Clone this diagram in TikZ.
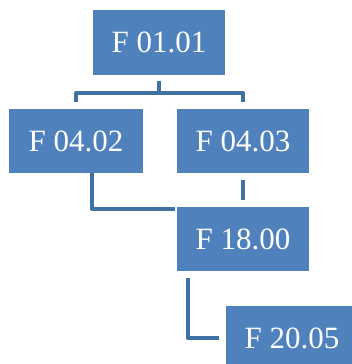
\documentclass[tikz,border=0pt]{standalone}
\usepackage{fontspec}
\setmainfont{Liberation Serif}
\usetikzlibrary{calc}
\definecolor{boxblue}{RGB}{79,129,189}
\definecolor{lineblue}{RGB}{65,113,163}
\tikzset{
  fbox/.style={fill=boxblue, draw=none, text=white, inner sep=0pt,
    minimum width=132pt, minimum height=64pt,
    font=\fontsize{31}{31}\selectfont},
  conn/.style={draw=lineblue, line width=4pt, line join=round, line cap=butt}
}
\begin{document}
\begin{tikzpicture}[x=1pt,y=1pt]
\useasboundingbox (0,0) rectangle (352,364);
\clip (0,0) rectangle (352,364);
\node[fbox, minimum height=65pt] (A) at (159,321.5) {F 01.01};
\node[fbox, minimum width=134pt] (B) at (76,223) {F 04.02};
\node[fbox] (C) at (243,223) {F 04.03};
\node[fbox] (D) at (243,125) {F 18.00};
\node[fbox] (E) at (292,26) {F 20.05};
\draw[conn, shorten <=6pt, shorten >=7pt] (A.south) -- ++(0,-18) -| (B.north);
\draw[conn, shorten >=7pt] (A.south) ++(0,-18) -| (C.north);
\draw[conn] ($(B.south)+(16,0)$) |- ($(D.north west)+(-2,-2)$);
\draw[conn, shorten <=7pt, shorten >=7pt] (C.south) -- (D.north);
\draw[conn, shorten <=7pt, shorten >=7pt] ($(D.south west)+(11,0)$) |- (E.west);
\end{tikzpicture}
\end{document}
